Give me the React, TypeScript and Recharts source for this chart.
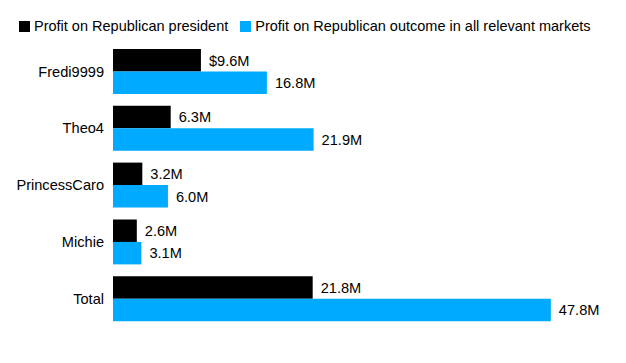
import { BarChart, Bar, XAxis, YAxis, LabelList } from 'recharts';

const categories = ['Fredi9999', 'Theo4', 'PrincessCaro', 'Michie', 'Total'];
const presidentProfit = [9.6, 6.3, 3.2, 2.6, 21.8];
const allMarketsProfit = [16.8, 21.9, 6.0, 3.1, 47.8];

const BLACK = '#000000';
const BLUE = '#00aaff';
const FONT = '"Liberation Sans", Arial, sans-serif';

const data = categories.map((name, i) => ({
  name,
  president: presidentProfit[i],
  all: allMarketsProfit[i],
}));

function ValueLabel(props: any) {
  const { x, y, width, height, value, index, dollar } = props;
  const text = (dollar && index === 0 ? '$' : '') + Number(value).toFixed(1) + 'M';
  return (
    <text x={x + width + 8} y={y + height / 2} dy="0.36em" fontSize={14.6} fill="#000" fontFamily={FONT}>
      {text}
    </text>
  );
}

function LegendRow() {
  const item = (color: string, label: string) => (
    <span style={{ display: 'inline-flex', alignItems: 'center', marginRight: 12 }}>
      <span style={{ width: 11, height: 11, background: color, display: 'inline-block', marginRight: 4 }} />
      {label}
    </span>
  );
  return (
    <div style={{ position: 'absolute', left: 11, top: 10, fontSize: 14.5, fontFamily: FONT, color: '#000', whiteSpace: 'nowrap' }}>
      {item(BLACK, 'Profit on Republican president')}
      {item(BLUE, 'Profit on Republican outcome in all relevant markets')}
    </div>
  );
}

export default function App() {
  return (
    <div style={{ position: 'relative', width: 610, height: 347 }}>
      <LegendRow />
      <BarChart
        width={610}
        height={347}
        data={data}
        layout="vertical"
        barGap={0}
        margin={{ top: 35, right: 47, bottom: 28, left: 0 }}
      >
        <XAxis type="number" domain={[0, 50]} hide />
        <YAxis
          type="category"
          dataKey="name"
          width={105}
          axisLine={false}
          tickLine={false}
          tickSize={0}
          tickMargin={9}
          tick={{ fontSize: 14.6, fill: '#000', fontFamily: FONT }}
        />
        <Bar dataKey="president" fill={BLACK} barSize={22.5} isAnimationActive={false}>
          <LabelList dataKey="president" content={<ValueLabel dollar />} />
        </Bar>
        <Bar dataKey="all" fill={BLUE} barSize={22.5} isAnimationActive={false}>
          <LabelList dataKey="all" content={<ValueLabel />} />
        </Bar>
      </BarChart>
    </div>
  );
}
